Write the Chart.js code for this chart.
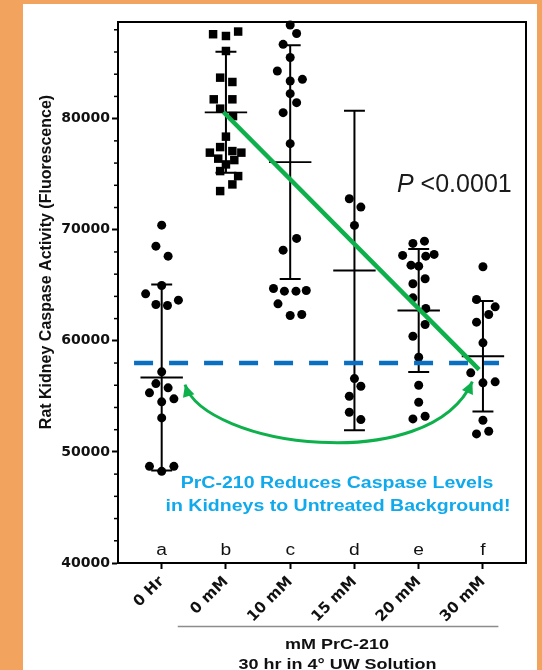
<!DOCTYPE html>
<html>
<head>
<meta charset="utf-8">
<script src="https://cdn.jsdelivr.net/npm/chart.js@4.4.1/dist/chart.umd.min.js"></script>
<style>
    html, body { margin: 0; padding: 0; background: #F2A35E; overflow: hidden; }
    #panel { position: absolute; left: 23px; top: 4px; width: 514px; height: 666px; background: #fff; }
    #wrap { position: absolute; left: 0; top: 0; width: 542px; height: 670px; }
</style>
</head>
<body>
<div id="panel"></div>
<div id="wrap"><canvas id="chart" width="542" height="670"></canvas></div>
<script>
// groups on the x axis
var groupLabels = ['0 Hr', '0 mM', '10 mM', '15 mM', '20 mM', '30 mM'];
var groupLetters = ['a', 'b', 'c', 'd', 'e', 'f'];
var yTicks = [40000, 50000, 60000, 70000, 80000];

// mean and SD of each group
var groupMeans = [56700, 80570, 76090, 66330, 62730, 58610];
var groupSDs = [8380, 5450, 10520, 14370, 5530, 4980];

// single kidneys, value + horizontal scatter (in category units)
var valsA = [70410, 68520, 67620, 64980, 64230, 63270, 63180, 63660, 57210, 56150, 55770, 55320, 54510, 54780, 53060, 48700, 48700, 48250];
var jitA = [0, -0.09, 0.1, 0, -0.25, -0.09, 0.09, 0.26, 0, -0.09, 0.1, -0.19, 0, 0.19, 0, -0.19, 0.19, 0];
var valsB = [87600, 87440, 87840, 86090, 83690, 83300, 81740, 81740, 80900, 80230, 78380, 77440, 76940, 77080, 76940, 76400, 76270, 75880, 75280, 74830, 74080, 73480];
var jitB = [-0.2, 0, 0.19, 0, -0.09, 0.1, -0.19, 0.1, -0.09, 0.11, 0, -0.09, -0.25, 0.1, 0.24, -0.12, 0.13, 0, -0.09, 0.19, 0.1, -0.09];
var valsC = [88430, 87660, 86690, 85500, 84290, 83390, 83540, 82250, 81440, 80540, 77750, 69220, 68160, 64710, 64470, 64470, 64530, 63330, 62280, 62370];
var jitC = [0, 0.1, -0.11, 0, -0.2, 0, 0.19, 0, 0.1, -0.11, 0, 0.1, -0.11, -0.26, -0.09, 0.09, 0.25, -0.19, 0, 0.18];
var valsD = [72790, 72040, 70390, 56600, 55910, 55010, 53570, 52910];
var jitD = [-0.08, 0.1, 0, 0, 0.1, -0.08, -0.08, 0.1];
var valsE = [68770, 68970, 67690, 67620, 67780, 66810, 66720, 65590, 65140, 63870, 62910, 61470, 60410, 58520, 56000, 54470, 52970, 53210];
var jitE = [-0.09, 0.09, -0.25, 0.11, 0.24, -0.12, 0, 0.1, -0.09, -0.09, 0.11, 0.1, -0.09, 0, 0, 0, -0.09, 0.1];
var valsF = [66670, 63720, 63060, 62370, 61680, 59820, 57120, 56220, 56310, 52850, 51860, 51620];
var jitF = [0, -0.1, 0.19, 0.09, -0.1, 0, -0.19, 0, 0.19, 0, 0.09, -0.1];

// untreated background level (dashed) and trend line
var baseLevel = 58000;
var baseFrom = -0.43, baseTo = 5.25;
var trendX = [0.96, 4.94];
var trendY = [80600, 57410];

// curved double arrow, bezier control points in data units
var arrowX = [0.363, 0.674, 4.166, 4.835];
var arrowY = [56060, 50480, 47690, 56330];

var GREEN = '#0DB04B';

function groupPoints(i, vals, jit) {
    return vals.map(function (v, k) { return {x: i + jit[k], y: v}; });
}

var circles = [].concat(
    groupPoints(0, valsA, jitA),
    groupPoints(2, valsC, jitC),
    groupPoints(3, valsD, jitD),
    groupPoints(4, valsE, jitE),
    groupPoints(5, valsF, jitF)
);
var squares = groupPoints(1, valsB, jitB);

var whiskers = [], meanLines = [];
groupMeans.forEach(function (m, i) {
    var lo = m - groupSDs[i], hi = m + groupSDs[i];
    whiskers.push({x: i, y: lo}, {x: i, y: hi}, {x: i, y: null});
    whiskers.push({x: i - 0.163, y: hi}, {x: i + 0.163, y: hi}, {x: i, y: null});
    whiskers.push({x: i - 0.163, y: lo}, {x: i + 0.163, y: lo}, {x: i, y: null});
    meanLines.push({x: i - 0.33, y: m}, {x: i + 0.33, y: m}, {x: i, y: null});
});

function txt(ctx, s, x, y, font, color, align, sx) {
    ctx.save();
    ctx.translate(x, y);
    ctx.scale(sx || 1, 1);
    ctx.font = font;
    ctx.fillStyle = color;
    ctx.textAlign = align || 'center';
    ctx.textBaseline = 'alphabetic';
    ctx.fillText(s, 0, 0);
    ctx.restore();
}

function arrowHead(ctx, tip, from, len, half) {
    var a = Math.atan2(tip[1] - from[1], tip[0] - from[0]);
    ctx.beginPath();
    ctx.moveTo(tip[0], tip[1]);
    ctx.lineTo(tip[0] - len * Math.cos(a) + half * Math.sin(a), tip[1] - len * Math.sin(a) - half * Math.cos(a));
    ctx.lineTo(tip[0] - len * Math.cos(a) - half * Math.sin(a), tip[1] - len * Math.sin(a) + half * Math.cos(a));
    ctx.closePath();
    ctx.fill();
}

var extras = {
    id: 'extras',
    afterDraw: function (chart) {
        var ctx = chart.ctx, ca = chart.chartArea;
        var xs = chart.scales.x, ys = chart.scales.y;

        // frame top + right
        ctx.save();
        ctx.strokeStyle = '#000';
        ctx.lineWidth = 2;
        ctx.beginPath();
        ctx.moveTo(ca.left, ca.top);
        ctx.lineTo(ca.right, ca.top);
        ctx.lineTo(ca.right, ca.bottom);
        ctx.stroke();

        // minor ticks on y
        ctx.lineWidth = 1.5;
        for (var v = 42000; v <= 88000; v += 2000) {
            if (v % 10000 === 0) continue;
            var py = ys.getPixelForValue(v);
            ctx.beginPath();
            ctx.moveTo(ca.left - 4, py);
            ctx.lineTo(ca.left, py);
            ctx.stroke();
        }

        // curved double arrow
        var p = arrowX.map(function (x, k) {
            return [xs.getPixelForValue(x), ys.getPixelForValue(arrowY[k])];
        });
        ctx.strokeStyle = GREEN;
        ctx.fillStyle = GREEN;
        ctx.lineWidth = 3;
        ctx.beginPath();
        ctx.moveTo(p[0][0], p[0][1]);
        ctx.bezierCurveTo(p[1][0], p[1][1], p[2][0], p[2][1], p[3][0], p[3][1]);
        ctx.stroke();
        arrowHead(ctx, p[0], p[1], 12, 6);
        arrowHead(ctx, p[3], p[2], 12, 6);

        // group letters
        groupLetters.forEach(function (l, i) {
            txt(ctx, l, xs.getPixelForValue(i), 555, '16px "Liberation Sans", Arial', '#111', 'center', 1.2);
        });

        // P value
        ctx.font = 'italic 25px "Liberation Sans", Arial';
        var pw = ctx.measureText('P').width;
        txt(ctx, 'P', 397, 192, 'italic 25px "Liberation Sans", Arial', '#1a1a1a', 'left');
        txt(ctx, ' <0.0001', 397 + pw, 192, '25px "Liberation Sans", Arial', '#1a1a1a', 'left');

        // blue message
        txt(ctx, 'PrC-210 Reduces Caspase Levels', 337, 487.5, 'bold 16px "Liberation Sans", Arial', '#10A9EC', 'center', 1.22);
        txt(ctx, 'in Kidneys to Untreated Background!', 338, 511, 'bold 16px "Liberation Sans", Arial', '#10A9EC', 'center', 1.22);

        // y title
        ctx.save();
        ctx.translate(47, 262);
        ctx.rotate(-Math.PI / 2);
        ctx.font = 'bold 16px "Liberation Sans", Arial';
        ctx.fillStyle = '#111';
        ctx.textAlign = 'center';
        ctx.textBaseline = 'middle';
        ctx.fillText('Rat Kidney Caspase Activity (Fluorescence)', 0, 0);
        ctx.restore();

        // bracket under the treated groups
        ctx.strokeStyle = '#8c8c8c';
        ctx.lineWidth = 1.5;
        ctx.beginPath();
        ctx.moveTo(xs.getPixelForValue(0.25), 626.5);
        ctx.lineTo(xs.getPixelForValue(5.24), 626.5);
        ctx.stroke();
        txt(ctx, 'mM PrC-210', 337, 648.5, 'bold 15px "Liberation Sans", Arial', '#111', 'center', 1.2);
        txt(ctx, '30 hr in 4\u00b0 UW Solution', 337.5, 669, 'bold 15px "Liberation Sans", Arial', '#111', 'center', 1.2);
        ctx.restore();
    }
};

var tickFont = {family: '"DejaVu Sans", Arial', weight: 'bold', size: 14};

new Chart(document.getElementById('chart'), {
    type: 'scatter',
    data: {
        datasets: [
            {
                data: trendX.map(function (x, k) { return {x: x, y: trendY[k]}; }),
                showLine: true, borderColor: GREEN, borderWidth: 4.5, pointRadius: 0, clip: false
            },
            {
                data: [{x: baseFrom, y: baseLevel}, {x: baseTo, y: baseLevel}],
                showLine: true, borderColor: '#0B6FC1', borderWidth: 4.5, borderDash: [19, 16],
                borderCapStyle: 'butt', pointRadius: 0
            },
            {
                data: squares, pointStyle: 'rect', pointRadius: 6, backgroundColor: '#000', borderWidth: 0, clip: false
            },
            {
                data: circles, pointStyle: 'circle', pointRadius: 4.5, backgroundColor: '#000', borderWidth: 0, clip: false
            },
            {
                data: meanLines, showLine: true, spanGaps: false, borderColor: '#000', borderWidth: 1.8, pointRadius: 0
            },
            {
                data: whiskers, showLine: true, spanGaps: false, borderColor: '#000', borderWidth: 2, pointRadius: 0, clip: false
            }
        ]
    },
    options: {
        responsive: false,
        animation: false,
        events: [],
        layout: {padding: {top: 22, right: 16, left: 0, bottom: 0}},
        plugins: {legend: {display: false}, tooltip: {enabled: false}},
        scales: {
            x: {
                type: 'linear', min: -0.68, max: 5.67,
                afterBuildTicks: function (s) {
                    s.ticks = groupLabels.map(function (l, i) { return {value: i}; });
                },
                afterFit: function (s) { s.height = 107; },
                border: {color: '#000', width: 2},
                grid: {drawOnChartArea: false, tickLength: 6, tickColor: '#000', tickWidth: 2},
                ticks: {
                    autoSkip: false, minRotation: 45, maxRotation: 45, padding: 4,
                    color: '#111', font: {family: '"DejaVu Sans", Arial', weight: 'bold', size: 15},
                    callback: function (v) { return groupLabels[v]; }
                }
            },
            y: {
                min: 40000, max: 88700,
                afterBuildTicks: function (s) {
                    s.ticks = yTicks.map(function (v) { return {value: v}; });
                },
                afterFit: function (s) { s.width = 118; },
                border: {color: '#000', width: 2},
                grid: {drawOnChartArea: false, tickLength: 6, tickColor: '#000', tickWidth: 2},
                ticks: {
                    padding: 2, color: '#111', font: tickFont,
                    callback: function (v) { return String(v); }
                }
            }
        }
    },
    plugins: [extras]
});
</script>
</body>
</html>
